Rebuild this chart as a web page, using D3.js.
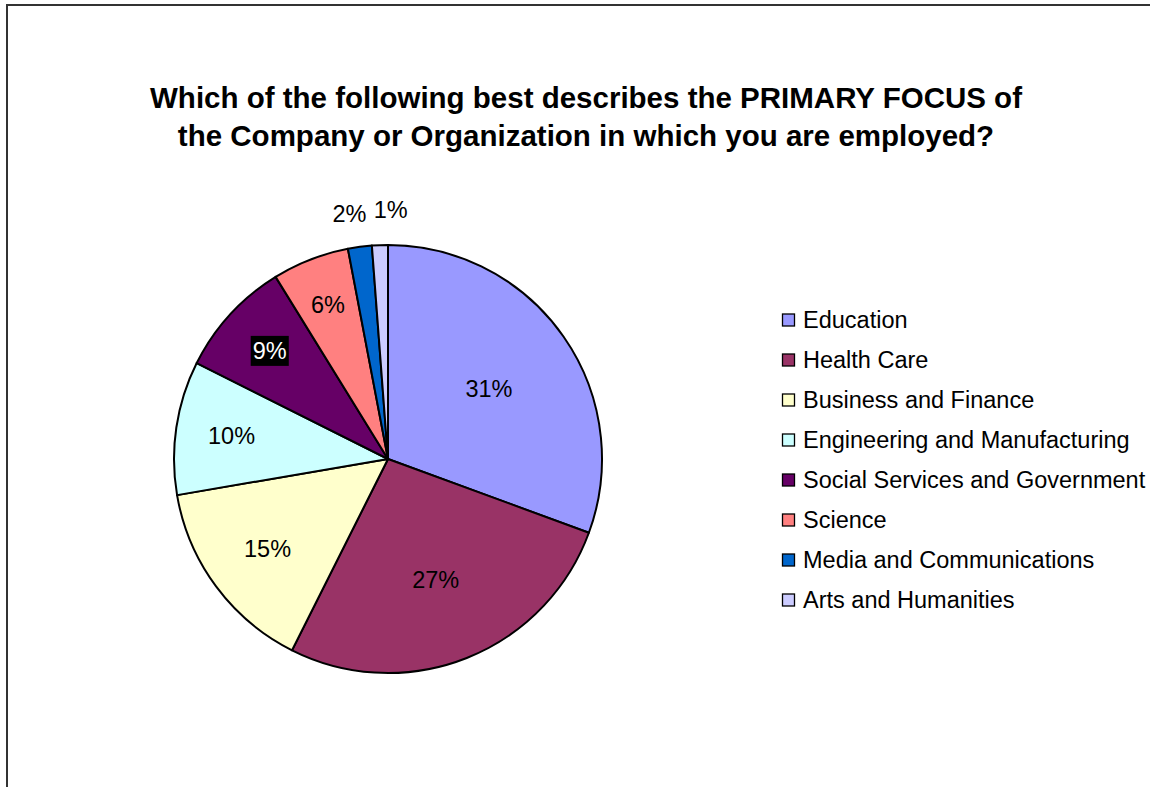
<!DOCTYPE html>
<html><head><meta charset="utf-8">
<script src="https://cdn.jsdelivr.net/npm/d3@7"></script>
<style>body{margin:0;background:#fff;}svg{display:block;font-family:"Liberation Sans",Arial,sans-serif;}</style>
</head><body>
<svg id="c" width="1150" height="787"></svg>
<script>
const categories = ["Education","Health Care","Business and Finance","Engineering and Manufacturing","Social Services and Government","Science","Media and Communications","Arts and Humanities"];
const values = [30.6, 26.8, 14.9, 10.1, 8.8, 5.8, 1.8, 1.2];
const colors = ["#9999FF","#993366","#FFFFCC","#CCFFFF","#660066","#FF8080","#0066CC","#CCCCFF"];
const titleLines = ["Which of the following best describes the PRIMARY FOCUS of","the Company or Organization in which you are employed?"];

const svg = d3.select("#c");
svg.append("rect").attr("x",7).attr("y",5).attr("width",1160).attr("height",800)
  .attr("fill","#fff").attr("stroke","#333").attr("stroke-width",2);

svg.append("g").selectAll("text").data(titleLines).join("text")
  .attr("x",586).attr("y",(d,i)=>108+i*38).attr("text-anchor","middle")
  .attr("font-size",29.5).attr("font-weight","bold").text(d=>d);

const cx=388, cy=459, R=214;
const total = d3.sum(values);
const pie = d3.pie().sort(null).value(d=>d.v);
const data = pie(categories.map((c,i)=>({c,v:values[i],col:colors[i]})));
const arc = d3.arc().innerRadius(0).outerRadius(R);
const g = svg.append("g").attr("transform",`translate(${cx},${cy})`);
g.selectAll("path").data(data).join("path").attr("d",arc)
  .attr("fill",d=>d.data.col).attr("stroke","#000").attr("stroke-width",2).attr("stroke-linejoin","round");

const fmt = v=>Math.round(v/total*100)+"%";
const outArc = d3.arc().innerRadius(R+33).outerRadius(R+33);
const lab = g.append("g").selectAll("g").data(data).join("g")
  .attr("transform",(d,i)=>{
    const frac = d.data.v/total;
    let p;
    if (frac < 0.03) p = outArc.centroid(d);
    else {
      const r = R*(0.82 - 0.8*frac);
      p = d3.arc().innerRadius(r).outerRadius(r).centroid(d);
    }
    if (d.data.c==="Arts and Humanities") p=[p[0]+12,p[1]-2];
    if (d.data.c==="Media and Communications") p=[p[0]-6,p[1]];
    return `translate(${p[0]},${p[1]})`;
  });
lab.each(function(d){
  const s = d3.select(this);
  const t = s.append("text").attr("text-anchor","middle").attr("dy","0.35em")
    .attr("font-size",23.5).attr("fill","#000").text(fmt(d.data.v));
  if (d.data.c==="Social Services and Government"){
    const b = t.node().getBBox();
    s.insert("rect","text").attr("x",b.x-2).attr("y",b.y-2).attr("width",b.width+4).attr("height",b.height+4).attr("fill","#000");
    t.attr("fill","#fff");
  }
});

const leg = svg.append("g").attr("transform","translate(782,320)");
const rows = leg.selectAll("g").data(categories).join("g").attr("transform",(d,i)=>`translate(0,${i*40})`);
rows.append("rect").attr("x",0.5).attr("y",-6).attr("width",12).attr("height",12)
  .attr("fill",(d,i)=>colors[i]).attr("stroke","#000").attr("stroke-width",1.3);
rows.append("text").attr("x",21).attr("y",0).attr("dy","0.35em").attr("font-size",23.5).text(d=>d);
</script>
</body></html>
